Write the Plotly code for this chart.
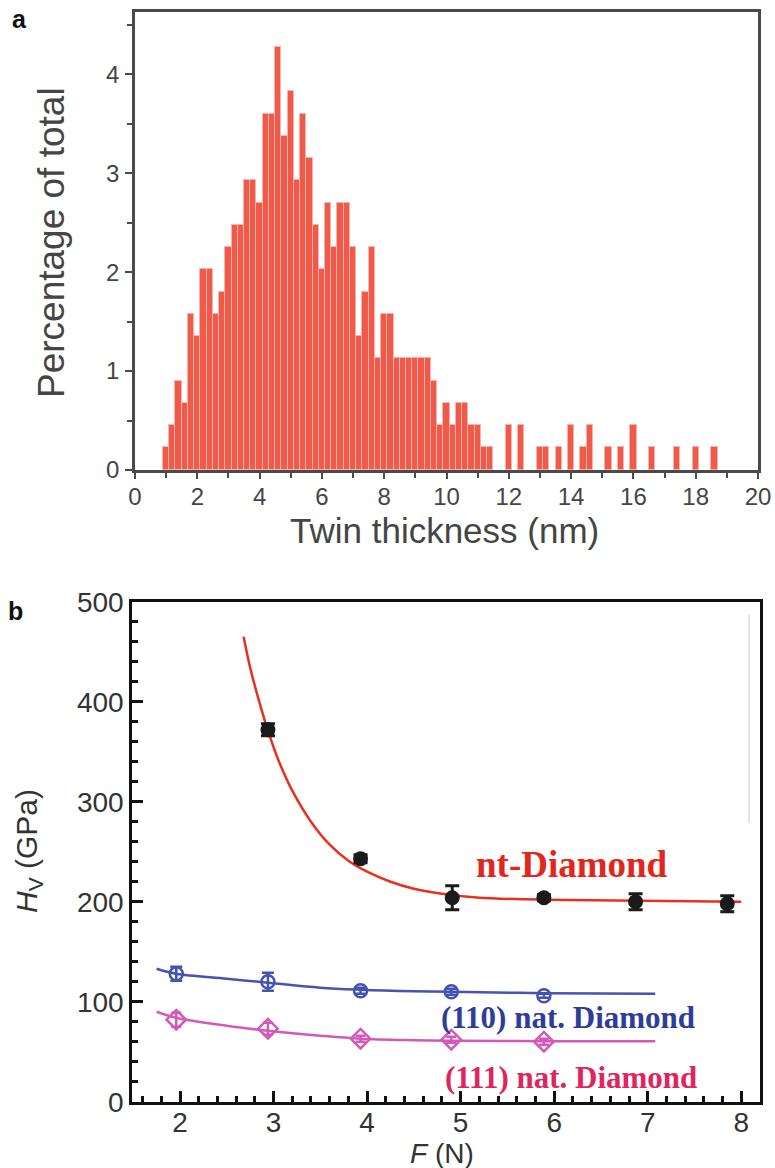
import plotly.graph_objects as go

W, H = 775, 1168

# ---------------- Panel a: twin thickness histogram ----------------
thickness_nm = [1.0, 1.2, 1.4, 1.6, 1.8, 2.0, 2.2, 2.4, 2.6, 2.8,
                3.0, 3.2, 3.4, 3.6, 3.8, 4.0, 4.2, 4.4, 4.6, 4.8,
                5.0, 5.2, 5.4, 5.6, 5.8, 6.0, 6.2, 6.4, 6.6, 6.8,
                7.0, 7.2, 7.4, 7.6, 7.8, 8.0, 8.2, 8.4, 8.6, 8.8,
                9.0, 9.2, 9.4, 9.6, 9.8, 10.0, 10.2, 10.4, 10.6, 10.8,
                11.0, 11.2, 11.4,
                12.0, 12.4, 13.0, 13.2, 13.6, 14.0, 14.4, 14.6, 15.2, 15.6,
                16.0, 16.6, 17.4, 18.0, 18.6]
percentage = [0.23, 0.45, 0.90, 0.68, 1.58, 1.35, 2.03, 2.03, 1.58, 1.80,
              2.25, 2.48, 2.48, 2.93, 2.93, 2.70, 3.60, 3.60, 4.28, 3.38,
              3.83, 2.93, 3.60, 3.15, 2.48, 2.03, 2.70, 2.25, 2.70, 2.70,
              2.25, 1.35, 1.80, 2.25, 1.13, 1.58, 1.58, 1.13, 1.13, 1.13,
              1.13, 1.13, 1.13, 0.90, 0.45, 0.68, 0.45, 0.68, 0.68, 0.45,
              0.45, 0.23, 0.23,
              0.45, 0.45, 0.23, 0.23, 0.23, 0.45, 0.23, 0.45, 0.23, 0.23,
              0.45, 0.23, 0.23, 0.23, 0.23]

# ---------------- Panel b: Vickers hardness vs load ----------------
nt_F = [2.94, 3.93, 4.91, 5.89, 6.87, 7.85]
nt_Hv = [372, 243, 204, 204, 200, 198]
nt_err = [6, 4, 12, 3, 8, 8]
nt_fit_F = [2.68, 2.75, 2.85, 2.94, 3.05, 3.2, 3.4, 3.6, 3.8, 4.0, 4.25, 4.5, 4.8, 5.2, 5.9, 6.9, 8.0]
nt_fit_Hv = [465, 434, 399, 371, 342, 311, 280, 257, 241, 230, 220, 213, 208, 204, 202, 201, 200]

n110_F = [1.96, 2.94, 3.93, 4.9, 5.89]
n110_Hv = [128, 120, 111, 110, 106]
n110_err = [7, 9, 3, 3, 2]
n110_fit_F = [1.75, 1.96, 2.5, 2.94, 3.5, 3.93, 4.5, 4.9, 5.9, 7.08]
n110_fit_Hv = [133, 128, 123, 119, 114, 112, 110.5, 110, 108.5, 108]

n111_F = [1.96, 2.94, 3.93, 4.9, 5.89]
n111_Hv = [82, 73, 63, 62, 60]
n111_err = [7, 6, 3, 3, 3]
n111_fit_F = [1.75, 1.96, 2.5, 2.94, 3.5, 3.93, 4.5, 4.9, 5.9, 7.08]
n111_fit_Hv = [90, 84, 76, 71, 66, 63, 61.5, 61, 60.5, 60.5]

RED_BAR = "#EF5A4A"
RED_LINE = "#E8301E"
BLUE = "#4553B3"
MAGENTA = "#D458B8"

fig = go.Figure()

fig.add_trace(go.Bar(
    x=thickness_nm, y=percentage, width=0.2,
    marker=dict(color=RED_BAR, line=dict(color="#F7B3A9", width=1)),
    xaxis="x", yaxis="y", showlegend=False))

# nt-Diamond
fig.add_trace(go.Scatter(x=nt_fit_F, y=nt_fit_Hv, mode="lines",
                         line=dict(color=RED_LINE, width=2.5, shape="spline", smoothing=0.8),
                         xaxis="x2", yaxis="y2", showlegend=False))
fig.add_trace(go.Scatter(x=nt_F, y=nt_Hv, mode="markers",
                         marker=dict(color="#1a1a1a", size=15, symbol="circle"),
                         error_y=dict(type="data", array=nt_err, color="#1a1a1a", thickness=3, width=7),
                         xaxis="x2", yaxis="y2", showlegend=False))
# (110)
fig.add_trace(go.Scatter(x=n110_fit_F, y=n110_fit_Hv, mode="lines",
                         line=dict(color=BLUE, width=2.5, shape="spline"),
                         xaxis="x2", yaxis="y2", showlegend=False))
fig.add_trace(go.Scatter(x=n110_F, y=n110_Hv, mode="markers",
                         marker=dict(color=BLUE, size=13, symbol="circle-open", line=dict(width=2.5)),
                         error_y=dict(type="data", array=n110_err, color=BLUE, thickness=2.5, width=6),
                         xaxis="x2", yaxis="y2", showlegend=False))
# (111)
fig.add_trace(go.Scatter(x=n111_fit_F, y=n111_fit_Hv, mode="lines",
                         line=dict(color=MAGENTA, width=2.5, shape="spline"),
                         xaxis="x2", yaxis="y2", showlegend=False))
fig.add_trace(go.Scatter(x=n111_F, y=n111_Hv, mode="markers",
                         marker=dict(color=MAGENTA, size=15, symbol="diamond-open", line=dict(width=2.5)),
                         error_y=dict(type="data", array=n111_err, color=MAGENTA, thickness=2.5, width=5),
                         xaxis="x2", yaxis="y2", showlegend=False))


def px_x(p):
    return p / W


def px_y(p):
    return 1 - p / H


SANS = "Liberation Sans, Arial, sans-serif"
SERIF = "Liberation Serif, Times New Roman, serif"
top_font = dict(family=SANS, size=24, color="#454545")
bot_font = dict(family=SANS, size=28, color="#333333")
AX_TOP = "#4a4a4a"

fig.update_layout(
    width=W, height=H, margin=dict(l=0, r=0, t=0, b=0),
    paper_bgcolor="white", plot_bgcolor="white",
    bargap=0,
    xaxis=dict(domain=[px_x(135), px_x(758)], range=[0, 20], anchor="y",
               tickmode="linear", tick0=0, dtick=2, ticks="outside", ticklen=6, tickwidth=1.5,
               tickcolor=AX_TOP, showline=True, linecolor=AX_TOP, linewidth=2.5, mirror=True,
               showgrid=False, zeroline=False, tickfont=top_font, ticklabelstandoff=-3,
               minor=dict(dtick=1, ticks="outside", ticklen=5, tickwidth=1.5, tickcolor=AX_TOP),
               automargin=False),
    yaxis=dict(domain=[px_y(470), px_y(12)], range=[0, 4.63], anchor="x",
               tickmode="linear", tick0=0, dtick=1, ticks="outside", ticklen=7, tickwidth=1.5,
               tickcolor=AX_TOP, showline=True, linecolor=AX_TOP, linewidth=2.5, mirror=True,
               showgrid=False, zeroline=False, tickfont=top_font, ticklabelstandoff=1,
               minor=dict(dtick=0.5, ticks="outside", ticklen=5, tickwidth=1.5, tickcolor=AX_TOP),
               automargin=False),
    xaxis2=dict(domain=[px_x(132.3), px_x(760)], range=[1.49, 8.2], anchor="y2",
                tickmode="linear", tick0=2, dtick=1, ticks="inside", ticklen=11, tickwidth=2.5,
                tickcolor="#111", showline=True, linecolor="#111", linewidth=3, mirror=True,
                showgrid=False, zeroline=False, tickfont=bot_font, ticklabelstandoff=-6,
                minor=dict(dtick=0.2, tick0=2, ticks="inside", ticklen=6, tickwidth=2.5, tickcolor="#111"),
                automargin=False),
    yaxis2=dict(domain=[px_y(1101.7), px_y(601.7)], range=[0, 500], anchor="x2",
                tickmode="linear", tick0=0, dtick=100, ticks="inside", ticklen=11, tickwidth=2.5,
                tickcolor="#111", showline=True, linecolor="#111", linewidth=3, mirror=True,
                showgrid=False, zeroline=False, tickfont=bot_font, ticklabelstandoff=0,
                minor=dict(dtick=20, ticks="inside", ticklen=6, tickwidth=2.5, tickcolor="#111"),
                automargin=False),
    shapes=[dict(type="line", xref="paper", yref="paper",
                 x0=px_x(749), x1=px_x(749), y0=px_y(823), y1=px_y(615),
                 line=dict(color="#d8d8d8", width=1.5))],
)

ann = []


def add_text(text, cx, cy, size, color="#333", family=SANS, angle=0):
    ann.append(dict(text=text, x=px_x(cx), y=px_y(cy), xref="paper", yref="paper",
                    xanchor="center", yanchor="middle", showarrow=False, textangle=angle,
                    font=dict(size=size, color=color, family=family)))


add_text("<b>a</b>", 19, 19, 25, "#111")
add_text("<b>b</b>", 15, 611, 25, "#111")
add_text("Percentage of total", 52, 243, 37, "#454545", angle=-90)
add_text("Twin thickness (nm)", 444, 530, 35, "#454545")
add_text("<i>H</i><sub>V</sub> (GPa)", 28, 851, 30, "#333", angle=-90)
add_text("<i>F</i> (N)", 442, 1153, 28, "#333")
add_text("<b>nt-Diamond</b>", 572, 864, 37, "#E3261B", SERIF)
add_text("<b>(110) nat. Diamond</b>", 568, 1017, 31, "#2E3C9B", SERIF)
add_text("<b>(111) nat. Diamond</b>", 571, 1077, 31, "#E0245E", SERIF)

fig.update_layout(annotations=ann)

fig.write_html("out.html", config={"displayModeBar": False},
               post_script="document.body.style.margin='0px';document.body.style.overflow='hidden';")
